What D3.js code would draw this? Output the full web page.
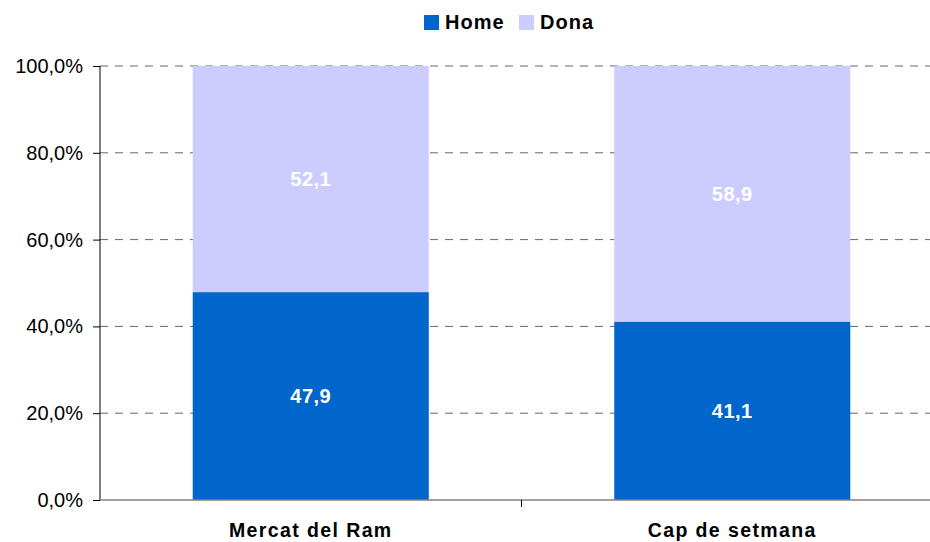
<!DOCTYPE html>
<html>
<head>
<meta charset="utf-8">
<script src="https://cdn.jsdelivr.net/npm/d3@7"></script>
<style>
  body { margin: 0; background: #fff; }
  svg { display: block; font-family: "Liberation Sans", Arial, sans-serif; }
</style>
</head>
<body>
<script>
// data
const categories = ["Mercat del Ram", "Cap de setmana"];
const home = [47.9, 41.1];
const dona = [52.1, 58.9];
const seriesNames = ["Home", "Dona"];
const yTicks = [0, 20, 40, 60, 80, 100];

const colors = { Home: "#0066cc", Dona: "#ccccff" };

const width = 930, height = 542;
const margin = { top: 66, right: -13, bottom: 42, left: 100 };
const innerW = width - margin.left - margin.right;
const innerH = height - margin.top - margin.bottom;

const svg = d3.select("body").append("svg")
  .attr("width", width)
  .attr("height", height);

const g = svg.append("g")
  .attr("transform", "translate(" + margin.left + "," + margin.top + ")");

const x = d3.scaleBand().domain(categories).range([0, innerW]).paddingInner(0.44).paddingOuter(0.22);
const y = d3.scaleLinear().domain([0, 100]).range([innerH, 0]);

// gridlines
g.selectAll(".grid").data(yTicks.filter(d => d > 0)).enter().append("line")
  .attr("x1", 0).attr("x2", innerW)
  .attr("y1", d => y(d)).attr("y2", d => y(d))
  .attr("stroke", "#666").attr("stroke-width", 1)
  .attr("stroke-dasharray", "8,7");

// stacked bars
const rows = categories.map((c, i) => ({ cat: c, Home: home[i], Dona: dona[i] }));
const stack = d3.stack().keys(seriesNames)(rows);

const layers = g.selectAll(".layer").data(stack).enter().append("g")
  .attr("fill", d => colors[d.key]);

layers.selectAll("rect").data(d => d).enter().append("rect")
  .attr("x", d => x(d.data.cat))
  .attr("width", x.bandwidth())
  .attr("y", d => y(d[1]))
  .attr("height", d => y(d[0]) - y(d[1]));

// value labels
layers.selectAll("text").data(d => d).enter().append("text")
  .attr("x", d => x(d.data.cat) + x.bandwidth() / 2)
  .attr("y", d => y((d[0] + d[1]) / 2))
  .attr("dy", "0.36em")
  .attr("text-anchor", "middle")
  .attr("fill", "#fff")
  .attr("font-weight", "bold")
  .attr("font-size", 20)
  .attr("letter-spacing", 0.5)
  .text(d => String((d[1] - d[0]).toFixed(1)).replace(".", ","));

// y axis
const yAxis = g.append("g")
  .call(d3.axisLeft(y).tickValues(yTicks).tickSize(7).tickPadding(10)
    .tickFormat(d => d.toFixed(1).replace(".", ",") + "%"));
yAxis.select(".domain").attr("stroke", "#000").attr("d", "M0,0V" + innerH);
yAxis.selectAll(".tick line").attr("stroke", "#000");
yAxis.selectAll(".tick text").attr("font-size", 20).attr("fill", "#000")
  .attr("font-family", "Liberation Sans, Arial, sans-serif");

// x axis
const xAxisG = g.append("g").attr("transform", "translate(0," + innerH + ")");
xAxisG.append("line").attr("x1", 0).attr("x2", innerW)
  .attr("stroke", "#808080").attr("stroke-width", 1.5);
const step = x.step();
xAxisG.selectAll(".sep").data(categories.slice(1)).enter().append("line")
  .attr("x1", d => x(d) - step * 0.44 / 2)
  .attr("x2", d => x(d) - step * 0.44 / 2)
  .attr("y1", 0).attr("y2", 7)
  .attr("stroke", "#000");
xAxisG.selectAll(".cat").data(categories).enter().append("text")
  .attr("x", d => x(d) + x.bandwidth() / 2)
  .attr("y", 37)
  .attr("text-anchor", "middle")
  .attr("font-weight", "bold")
  .attr("font-size", 19.5)
  .attr("letter-spacing", 1.4)
  .text(d => d);

// legend
const legend = svg.append("g").attr("transform", "translate(424,13)");
const items = [{ k: "Home", x: 0 }, { k: "Dona", x: 95 }];
items.forEach(it => {
  legend.append("rect").attr("x", it.x).attr("y", 2).attr("width", 15).attr("height", 15)
    .attr("fill", colors[it.k]);
  legend.append("text").attr("x", it.x + 21).attr("y", 16)
    .attr("font-weight", "bold").attr("font-size", 20).attr("letter-spacing", 1)
    .text(it.k);
});
</script>
</body>
</html>
